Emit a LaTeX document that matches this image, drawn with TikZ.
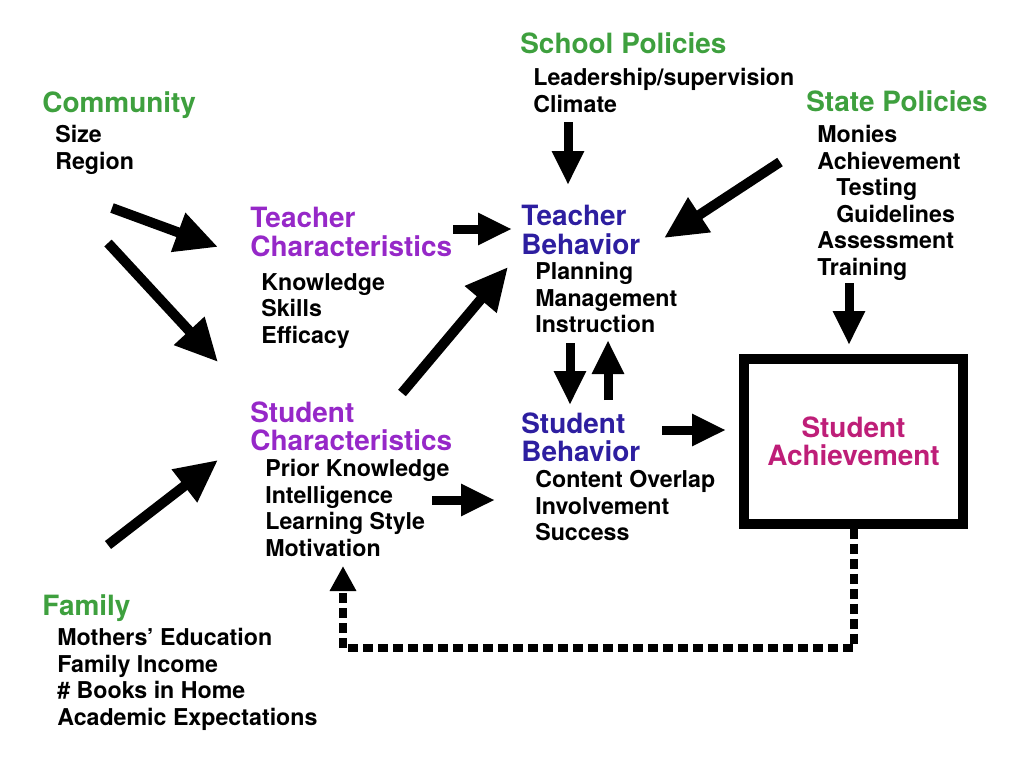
\documentclass[tikz,border=0pt]{standalone}
\usepackage{fontspec}
\setmainfont{TeX Gyre Heros}
\usetikzlibrary{arrows.meta}
\definecolor{leafgreen}{RGB}{62, 160, 62}
\definecolor{orchid}{RGB}{150, 40, 200}
\definecolor{indigo}{RGB}{45, 30, 160}
\definecolor{berry}{RGB}{190, 30, 120}

\tikzset{
  head/.style={font={\fontsize{15.9}{16.2}\selectfont\bfseries}, anchor=north west, inner sep=0pt, align=left},
  items/.style={font={\fontsize{13.2}{15.1}\selectfont\bfseries}, anchor=north west, inner sep=0pt, align=left},
  bigarrow/.style={line width=0.18cm, -{Triangle[width=0.6cm,length=0.68cm]}},
  widearrow/.style={line width=0.2cm, -{Triangle[width=0.78cm,length=0.85cm]}},
  feedback/.style={line width=0.16cm, dash pattern=on 0.2cm off 0.1cm, line join=miter,
    -{Triangle[width=0.5cm,length=0.5cm]}}
}

\begin{document}
\begin{tikzpicture}[x=0.02cm, y=-0.02cm]
            \useasboundingbox (0,0) rectangle (1024,762);
            % outer factors
            \node[head, text=leafgreen] (school)   at (520, 32)  {School Policies};
            \node[items]                (schooli)  at (533, 68)  {Leadership/supervision\\Climate};
            \node[head, text=leafgreen] (state)    at (806, 90)  {State Policies};
            \node[items]                (statei)   at (817,125)  {Monies\\Achievement\\\hspace*{0.38cm}Testing\\\hspace*{0.38cm}Guidelines\\Assessment\\Training};
            \node[head, text=leafgreen] (comm)     at ( 42, 91)  {Community};
            \node[items]                (commi)    at ( 55,125)  {Size\\Region};
            \node[head, text=leafgreen] (family)   at ( 42,594)  {Family};
            \node[items]                (familyi)  at ( 57,628)  {Mothers' Education\\Family Income\\\# Books in Home\\Academic Expectations};
            % characteristics and behaviour
            \node[head, text=orchid]    (tchar)    at (250,207)  {Teacher\\Characteristics};
            \node[items]                (tchari)   at (261,273)  {Knowledge\\Skills\\Efficacy};
            \node[head, text=indigo]    (tbeh)     at (521,205)  {Teacher\\Behavior};
            \node[items]                (tbehi)    at (535,262)  {Planning\\Management\\Instruction};
            \node[head, text=orchid]    (schar)    at (250,401)  {Student\\Characteristics};
            \node[items]                (schari)   at (265,459)  {Prior Knowledge\\Intelligence\\Learning Style\\Motivation};
            \node[head, text=indigo]    (sbeh)     at (521,412)  {Student\\Behavior};
            \node[items]                (sbehi)    at (535,470)  {Content Overlap\\Involvement\\Success};
            % outcome
            \node[draw, line width=0.2cm, minimum width=4.38cm, minimum height=3.3cm,
                  font={\fontsize{15.9}{16.2}\selectfont\bfseries}, text=berry, align=center]
                  (ach) at (853.5,441.5) {Student\\Achievement};
            % arrow ends
            \foreach \name/\px/\py in {s1/568/122, s2/568/185, t1/780/162, t2/664/238, u1/849/283, u2/849/345,
                                       c1/112/208, c2/218/247, d1/108/243, d2/218/362, e1/453/229, e2/512/229,
                                       f1/402/393, f2/508/267, g1/570/343, g2/570/405, h1/608/400, h2/608/340,
                                       k1/432/500, k2/495/500, m1/662/430, m2/726/430, n1/108/545, n2/218/460,
                                       fb/343/648, fbtip/343/566}
                \coordinate (\name) at (\px,\py);
            \draw[bigarrow]  (s1) -- (s2);
            \draw[widearrow] (t1) -- (t2);
            \draw[bigarrow]  (u1) -- (u2);
            \draw[widearrow] (c1) -- (c2);
            \draw[widearrow] (d1) -- (d2);
            \draw[bigarrow]  (e1) -- (e2);
            \draw[widearrow] (f1) -- (f2);
            \draw[bigarrow]  (g1) -- (g2);
            \draw[bigarrow]  (h1) -- (h2);
            \draw[bigarrow]  (k1) -- (k2);
            \draw[bigarrow]  (m1) -- (m2);
            \draw[widearrow] (n1) -- (n2);
            \draw[feedback] (ach.south) |- (fb) -- (fbtip);
\end{tikzpicture}
\end{document}
